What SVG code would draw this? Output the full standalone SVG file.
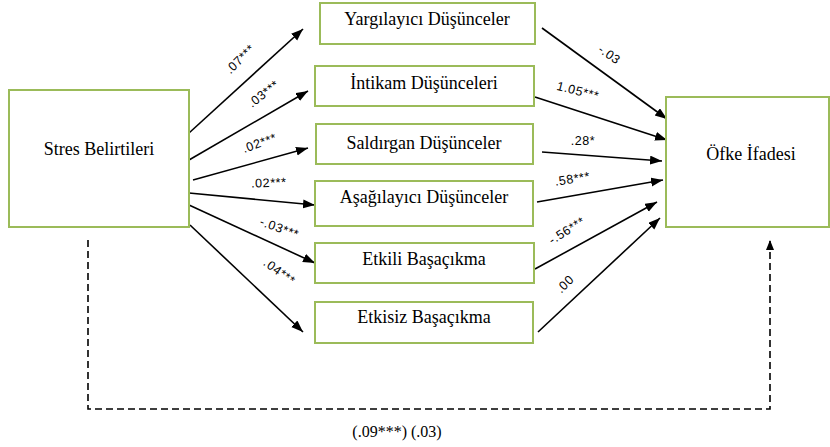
<svg xmlns="http://www.w3.org/2000/svg" width="830" height="447" viewBox="0 0 830 447">
<style>
.box{fill:#fff;stroke:#9BBB59;stroke-width:2}
.nt{font-family:"Liberation Serif","Times New Roman",serif;font-size:18px;fill:#000;text-anchor:middle}
.ln{stroke:#000;stroke-width:1.6;fill:none}
.dash{stroke:#000;stroke-width:1.6;fill:none;stroke-dasharray:7,4}
.lb{font-family:"Liberation Sans",Arial,sans-serif;font-size:12.5px;letter-spacing:0.6px;fill:#000;text-anchor:middle}
</style>
<defs>
<marker id="ah" markerUnits="userSpaceOnUse" markerWidth="13" markerHeight="10" refX="12" refY="4.5" orient="auto"><path d="M0,0 L12,4.5 L0,9 z" fill="#000"/></marker>
<marker id="ah2" markerUnits="userSpaceOnUse" markerWidth="11" markerHeight="9" refX="10" refY="4" orient="auto"><path d="M0,0 L10,4 L0,8 z" fill="#000"/></marker>
</defs>
<g id="connectors">
<line class="ln" x1="189" y1="133" x2="303" y2="29" marker-end="url(#ah)"/>
<line class="ln" x1="189" y1="160" x2="308" y2="91" marker-end="url(#ah)"/>
<line class="ln" x1="193" y1="180" x2="308" y2="148" marker-end="url(#ah)"/>
<line class="ln" x1="189" y1="193" x2="315" y2="205" marker-end="url(#ah)"/>
<line class="ln" x1="189" y1="205" x2="315" y2="263" marker-end="url(#ah)"/>
<line class="ln" x1="190" y1="225" x2="303" y2="332" marker-end="url(#ah)"/>
<line class="ln" x1="542" y1="28" x2="667" y2="119" marker-end="url(#ah)"/>
<line class="ln" x1="535" y1="97" x2="667" y2="140" marker-end="url(#ah)"/>
<line class="ln" x1="542" y1="152" x2="662" y2="161" marker-end="url(#ah)"/>
<line class="ln" x1="537" y1="202" x2="663" y2="180" marker-end="url(#ah)"/>
<line class="ln" x1="535" y1="269" x2="657" y2="202" marker-end="url(#ah)"/>
<line class="ln" x1="538" y1="332" x2="660" y2="218" marker-end="url(#ah)"/>
<polyline class="dash" points="88,240 88,409 770,409 770,240" marker-end="url(#ah2)"/>
<text class="lb" transform="translate(243,62) rotate(-45)">.07***</text>
<text class="lb" transform="translate(266,97) rotate(-38)">.03***</text>
<text class="lb" transform="translate(261,147) rotate(-20)">.02***</text>
<text class="lb" transform="translate(269,187) rotate(-2)">.02***</text>
<text class="lb" transform="translate(278,232) rotate(20)">-.03***</text>
<text class="lb" transform="translate(277,275) rotate(36)">.04***</text>
<text class="lb" transform="translate(607,58) rotate(35)">-.03</text>
<text class="lb" transform="translate(577,95) rotate(14)">1.05***</text>
<text class="lb" transform="translate(583,145)">.28*</text>
<text class="lb" transform="translate(573,183) rotate(-9)">.58***</text>
<text class="lb" transform="translate(569,234) rotate(-32)">-.56***</text>
<text class="lb" transform="translate(568,287) rotate(-45)">.00</text>
<text class="nt" x="397" y="437" style="font-size:16px">(.09***) (.03)</text>
</g>
<g id="stres"><rect class="box" x="9" y="90" width="180" height="137"/><text class="nt" x="99" y="155">Stres Belirtileri</text></g>
<g id="yargilayici"><rect class="box" x="320" y="3" width="215" height="41"/><text class="nt" x="427" y="25">Yargılayıcı Düşünceler</text></g>
<g id="intikam"><rect class="box" x="315" y="66" width="219" height="40"/><text class="nt" x="424" y="89">İntikam Düşünceleri</text></g>
<g id="saldirgan"><rect class="box" x="316" y="124" width="217" height="40"/><text class="nt" x="424" y="149">Saldırgan Düşünceler</text></g>
<g id="asagilayici"><rect class="box" x="315" y="181" width="218" height="45"/><text class="nt" x="424" y="203">Aşağılayıcı Düşünceler</text></g>
<g id="etkili"><rect class="box" x="315" y="243" width="219" height="40"/><text class="nt" x="424" y="265">Etkili Başaçıkma</text></g>
<g id="etkisiz"><rect class="box" x="315" y="302" width="218" height="41"/><text class="nt" x="424" y="323">Etkisiz Başaçıkma</text></g>
<g id="ofke"><rect class="box" x="666" y="97" width="163" height="130"/><text class="nt" x="751" y="160">Öfke İfadesi</text></g>
</svg>
